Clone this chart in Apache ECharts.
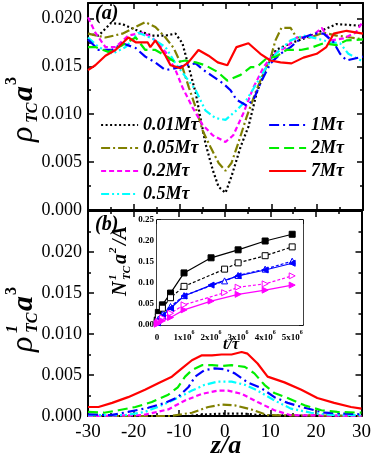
<!DOCTYPE html>
<html><head><meta charset="utf-8">
<script src="https://cdn.jsdelivr.net/npm/echarts@6/dist/echarts.min.js"></script>
<style>html,body{margin:0;padding:0;background:#fff}#c{width:374px;height:458px}</style>
</head><body><div id="c"></div>
<script>
// ---------- data ----------
const seriesNames = ['0.01M\u03c4','0.05M\u03c4','0.2M\u03c4','0.5M\u03c4','1M\u03c4','2M\u03c4','7M\u03c4'];
const seriesColors = ['#000000','#808000','#ff00ff','#00ffff','#0000ff','#00ee00','#ff0000'];

const zTicks = [-30,-20,-10,0,10,20,30];
const rhoTicksA = [0,0.005,0.010,0.015,0.020];
const rhoTicksB = [0,0.005,0.010,0.015,0.020];
const insetTTicks = [0,1,2,3,4,5];          // in units of 10^6
const insetNTicks = [0,0.05,0.10,0.15,0.20,0.25];

// panel (a): [z/a, rho_TC a^3]
const a001 = [[-30,0.0184],[-27.7,0.0182],[-25,0.0195],[-22.5,0.0194],[-19.6,0.0188],[-16,0.0182],[-13.1,0.0182],[-10.9,0.0184],[-9.4,0.0174],[-8,0.0149],[-6.5,0.0122],[-5.5,0.0097],[-4.4,0.0070],[-2.8,0.0042],[-1.5,0.0024],[0,0.0018],[1.3,0.0035],[3.3,0.0066],[5,0.0087],[6.8,0.0122],[8.9,0.0149],[11,0.0167],[14.2,0.0174],[17.7,0.0180],[21.4,0.0188],[24.2,0.0194],[27.3,0.0193],[30,0.0192]];
const a005 = [[-30,0.0184],[-26.2,0.0180],[-22.5,0.0184],[-19.6,0.0191],[-17.5,0.0196],[-15.3,0.0191],[-13.1,0.0180],[-11.3,0.0169],[-9.4,0.0149],[-8,0.0128],[-6.5,0.0107],[-5,0.0083],[-3.3,0.0066],[-1.5,0.0049],[0,0.0041],[1.3,0.0049],[2.8,0.0070],[4.6,0.0097],[6.5,0.0122],[8.3,0.0143],[9.8,0.0158],[10.9,0.0177],[12.2,0.0190],[14.2,0.0190],[15.5,0.0180],[18.5,0.0180],[21.4,0.0185],[24.2,0.0182],[27.3,0.0180],[30,0.0178]];
const a02 = [[-30,0.0201],[-28.4,0.0185],[-26.2,0.0170],[-24,0.0170],[-21.2,0.0182],[-18.1,0.0185],[-16,0.0180],[-13.1,0.0165],[-10.9,0.0146],[-9.4,0.0128],[-7.2,0.0107],[-5,0.0089],[-2.8,0.0078],[0,0.0071],[1.7,0.0078],[3.9,0.0101],[6.1,0.0128],[8.3,0.0149],[10.5,0.0163],[13.3,0.0170],[15.5,0.0180],[18.5,0.0180],[21,0.0190],[22.9,0.0177],[25.7,0.0179],[28.4,0.0185],[30,0.0197]];
const a05 = [[-30,0.0180],[-27.7,0.0170],[-24.7,0.0163],[-21.8,0.0170],[-19,0.0185],[-16,0.0179],[-13.1,0.0170],[-10.9,0.0153],[-8.7,0.0139],[-6.5,0.0125],[-4.4,0.0104],[-2.2,0.0096],[0,0.0094],[2.4,0.0104],[4.6,0.0115],[6.8,0.0132],[8.9,0.0149],[11,0.0163],[14.2,0.0177],[17,0.0182],[19.9,0.0179],[22.9,0.0175],[25,0.0174],[26.8,0.0163],[30,0.0155]];
const a1 = [[-30,0.0178],[-27.7,0.0167],[-24.7,0.0167],[-22.5,0.0174],[-19.6,0.0169],[-17.5,0.0160],[-15.3,0.0154],[-13.1,0.0146],[-10.9,0.0148],[-8.7,0.0151],[-6.5,0.0153],[-4.8,0.0146],[-2.6,0.0139],[-0.5,0.0132],[1.1,0.0125],[2.4,0.0115],[4.6,0.0109],[6.1,0.0115],[7.6,0.0132],[9.8,0.0153],[12,0.0163],[14.2,0.0170],[16.4,0.0179],[19.2,0.0184],[21.4,0.0184],[23.6,0.0175],[25,0.0163],[26.4,0.0156],[30,0.0160]];
const a2 = [[-30,0.0170],[-28.4,0.0170],[-25.5,0.0165],[-22.5,0.0172],[-19.6,0.0180],[-17.5,0.0167],[-15.3,0.0167],[-13.1,0.0161],[-10.9,0.0154],[-8.7,0.0156],[-6.5,0.0154],[-4.4,0.0151],[-1.7,0.0144],[0.4,0.0135],[3.3,0.0141],[5.5,0.0149],[6.8,0.0149],[8.9,0.0158],[11,0.0160],[13.3,0.0167],[16.4,0.0167],[18.5,0.0169],[21.4,0.0174],[24.2,0.0172],[26.4,0.0177],[30,0.0178]];
const a7 = [[-30,0.0146],[-28.4,0.0151],[-26.2,0.0161],[-24,0.0167],[-21.2,0.0180],[-19.6,0.0175],[-17,0.0175],[-16.4,0.0170],[-15.3,0.0177],[-13.1,0.0161],[-12,0.0151],[-9.8,0.0148],[-8.1,0.0154],[-5.9,0.0167],[-3.7,0.0161],[-1.7,0.0154],[0.4,0.0151],[2.4,0.0170],[5,0.0174],[7.6,0.0163],[9.8,0.0156],[12,0.0154],[14.4,0.0153],[17,0.0159],[19.9,0.0163],[22,0.0170],[23.6,0.0184],[26.4,0.0187],[30,0.0184]];

// panel (b): [z/a, rho^1_TC a^3]
const b001 = [[-30,0],[-8,0],[-4,0.0002],[0,0.0003],[4,0.0003],[8,0.0001],[30,0]];
const b005 = [[-30,0],[-12,0],[-7.2,0.0004],[-3.6,0.0011],[-0.7,0.0014],[2.2,0.0013],[5.8,0.0008],[9.4,0.0001],[30,0]];
const b02 = [[-30,0],[-18,0.0001],[-12.4,0.0008],[-8.7,0.0019],[-5,0.0027],[-1.5,0.0031],[0.7,0.0031],[3.7,0.0027],[7.2,0.0017],[10.9,0.0007],[14.5,0.0001],[30,0]];
const b05 = [[-30,0.0001],[-22,0.0001],[-17.5,0.0005],[-13.8,0.0013],[-10.3,0.0022],[-7.2,0.0031],[-4.4,0.0038],[-1.5,0.0042],[1.5,0.0042],[4.4,0.0038],[7.2,0.0031],[10.9,0.0019],[14.5,0.0009],[18.9,0.0004],[24,0.0001],[30,0.0001]];
const b1 = [[-30,0.0002],[-25,0.0001],[-21.2,0.0005],[-16.8,0.0010],[-13.1,0.0016],[-10.3,0.0023],[-8,0.0035],[-6.5,0.0048],[-4.4,0.0056],[-2.2,0.0058],[0,0.0057],[2.2,0.0052],[5,0.0041],[8,0.0034],[10.9,0.0023],[13.8,0.0016],[17.5,0.0010],[21.9,0.0004],[26.3,0.0003],[30,0.0002]];
const b2 = [[-30,0.0005],[-26.5,0.0004],[-23.3,0.0007],[-19.6,0.0011],[-16,0.0017],[-12.4,0.0026],[-10.3,0.0035],[-8.7,0.0048],[-7.2,0.0056],[-5,0.0062],[-2.8,0.0062],[-0.7,0.0061],[1.5,0.0062],[4.4,0.0060],[6.5,0.0052],[8.7,0.0038],[10.9,0.0028],[13.8,0.0022],[17.5,0.0013],[21.2,0.0007],[24.7,0.0005],[30,0.0004]];
const b7 = [[-30,0.0011],[-27.7,0.0011],[-24.7,0.0016],[-21.2,0.0023],[-17.5,0.0032],[-14.6,0.0040],[-11.6,0.0048],[-9.4,0.0058],[-7.2,0.0068],[-5,0.0074],[-2.8,0.0074],[-0.7,0.0075],[1.5,0.0075],[3.7,0.0078],[5,0.0076],[7.2,0.0064],[9.4,0.0048],[13.1,0.0041],[16.8,0.0032],[20.3,0.0022],[24,0.0016],[27.7,0.0011],[30,0.0009]];

// inset: t (10^6 tau) and N^1_TC a^2/A
const tFilled = [0.01,0.05,0.2,0.5,1,2,3,4,5];
const tOpen   = [0.01,0.05,0.2,0.5,1,2.5,3,4,5];
const nBlackFilled   = [0.012,0.030,0.048,0.076,0.124,0.160,0.179,0.200,0.216];
const nBlackOpen     = [0.008,0.020,0.040,0.065,0.092,0.133,0.148,0.165,0.186];
const nBlueFilled    = [0.005,0.012,0.022,0.040,0.069,0.095,0.117,0.131,0.147];
const nBlueOpen      = [0.006,0.014,0.025,0.044,0.070,0.105,0.118,0.133,0.152];
const nMagentaOpen   = [0.003,0.008,0.017,0.028,0.048,0.077,0.090,0.098,0.117];
const nMagentaFilled = [0.002,0.005,0.010,0.018,0.036,0.057,0.073,0.083,0.095];

// ---------- chart ----------
const FONT = 'Liberation Serif';
const topData = [a001,a005,a02,a05,a1,a2,a7];
const botData = [b001,b005,b02,b05,b1,b2,b7];
const dashes = [[2,2.5],[9,3,2,3],[5,3],[8,3,2,3,2,3],[10,4,2,4],[10,5],'solid'];

function ax(grid, pos, min, max, interval, label, tickLen) {
  tickLen = tickLen || 6;
  return {
    type:'value', gridIndex:grid, position:pos, min:min, max:max, interval:interval,
    axisLine:{show:true, onZero:false, lineStyle:{color:'#000', width:2}},
    axisTick:{show:true, inside:true, length:tickLen, lineStyle:{color:'#000', width:1.5}},
    minorTick:{show:true, splitNumber:2, length:tickLen/2, lineStyle:{color:'#000', width:1.5}},
    splitLine:{show:false},
    axisLabel: label ? label : {show:false}
  };
}
const mainYLabel = {show:true, fontFamily:FONT, fontSize:18, color:'#000', margin:6, showMaxLabel:false,
  formatter: v => v.toFixed(3)};
const mainXLabel = {show:true, fontFamily:FONT, fontSize:19, color:'#000', margin:7,
  formatter: v => String(v)};
const insetYLabel = {show:true, fontFamily:FONT, fontSize:9, fontWeight:'bold', color:'#000', margin:3,
  formatter: v => v.toFixed(2)};
const insetXLabel = {show:true, fontFamily:FONT, fontSize:9, fontWeight:'bold', color:'#000', margin:4, showMaxLabel:false,
  formatter: v => v === 0 ? '{n|0}' : '{n|' + Math.round(v/1e6) + 'x10}{s|6}',
  rich:{n:{fontFamily:FONT, fontSize:9, fontWeight:'bold', padding:[4,0,0,0]}, s:{fontFamily:FONT, fontSize:6, fontWeight:'bold', verticalAlign:'top', padding:[0,0,4,0]}}};

const zI = zTicks[1]-zTicks[0];
const rI = rhoTicksA[1]-rhoTicksA[0];
const tI = (insetTTicks[1]-insetTTicks[0])*1e6;
const nI = insetNTicks[1]-insetNTicks[0];

const xAxis = [
  ax(0,'bottom',zTicks[0],zTicks[zTicks.length-1],zI,null),
  ax(0,'top',zTicks[0],zTicks[zTicks.length-1],zI,null),
  ax(1,'bottom',zTicks[0],zTicks[zTicks.length-1],zI,mainXLabel),
  ax(1,'top',zTicks[0],zTicks[zTicks.length-1],zI,null),
  ax(2,'bottom',0,5.4e6,tI,insetXLabel,4),
  ax(2,'top',0,5.4e6,tI,null,4)
];
const yAxis = [
  ax(0,'left',rhoTicksA[0],0.0216,rI,mainYLabel),
  ax(0,'right',rhoTicksA[0],0.0216,rI,null),
  ax(1,'left',rhoTicksB[0],0.025,rI,mainYLabel),
  ax(1,'right',rhoTicksB[0],0.025,rI,null),
  ax(2,'left',insetNTicks[0],insetNTicks[insetNTicks.length-1],nI,insetYLabel,4),
  ax(2,'right',insetNTicks[0],insetNTicks[insetNTicks.length-1],nI,null,4)
];
xAxis[4].axisLine.lineStyle.width = 1.5; xAxis[5].axisLine.lineStyle.width = 1.5;
yAxis[4].axisLine.lineStyle.width = 1.5; yAxis[5].axisLine.lineStyle.width = 1.5;
xAxis[4].minorTick.show=false; xAxis[5].minorTick.show=false;
yAxis[4].minorTick.show=false; yAxis[5].minorTick.show=false;

const series = [];
seriesNames.forEach((nm,i) => {
  series.push({name:nm, type:'line', xAxisIndex:0, yAxisIndex:0, data:topData[i], showSymbol:false, symbol:'none',
    lineStyle:{color:seriesColors[i], width:2.2, type:dashes[i]}, itemStyle:{color:seriesColors[i]}, z:2+i, animation:false});
});
seriesNames.forEach((nm,i) => {
  series.push({name:nm, type:'line', xAxisIndex:2, yAxisIndex:2, data:botData[i], showSymbol:false, symbol:'none',
    lineStyle:{color:seriesColors[i], width:2.2, type:dashes[i]}, itemStyle:{color:seriesColors[i]}, z:2+i, animation:false});
});
function inset(name, ts, ns, color, dash, symbol, rot, filled) {
  series.push({name:name, type:'line', xAxisIndex:4, yAxisIndex:4,
    data: ts.map((t,k)=>[t*1e6, ns[k]]), symbol:symbol, symbolSize:6, symbolRotate:rot,
    lineStyle:{color:color, width:1.2, type:dash},
    itemStyle:{color: filled ? color : '#fff', borderColor:color, borderWidth:1},
    z:20, animation:false});
}
inset('i1', tFilled, nBlackFilled, '#000', 'solid', 'rect', 0, true);
inset('i2', tOpen, nBlackOpen, '#000', [3,2], 'rect', 0, false);
inset('i3', tOpen, nBlueOpen, '#0000ff', [3,2], 'triangle', 0, false);
inset('i4', tFilled, nBlueFilled, '#0000ff', 'solid', 'triangle', 90, true);
inset('i5', tOpen, nMagentaOpen, '#ff00ff', [3,2], 'triangle', -90, false);
inset('i6', tFilled, nMagentaFilled, '#ff00ff', 'solid', 'triangle', -90, true);

const legendText = {fontFamily:FONT, fontSize:18, fontStyle:'italic', fontWeight:'bold', color:'#000'};
const legendCommon = {orient:'vertical', padding:0, itemGap:5, itemWidth:37, itemHeight:14,
  textStyle:legendText, selectedMode:false, itemStyle:{opacity:0, borderWidth:0}, lineStyle:{width:2.2}};

function ylab(x, y, withOne) {
  const ch = [
    {type:'text', x:0, y:0, style:{text:'\u03c1', font:'italic 32px "Liberation Serif"', fill:'#000', textVerticalAlign:'middle'}},
    {type:'text', x:19, y:9, style:{text:'TC', font:'italic bold 16px "Liberation Serif"', fill:'#000', textVerticalAlign:'middle'}},
    {type:'text', x:41, y:0, style:{text:'a', font:'italic bold 30px "Liberation Serif"', fill:'#000', textVerticalAlign:'middle'}},
    {type:'text', x:57, y:-12, style:{text:'3', font:'bold 16px "Liberation Serif"', fill:'#000', textVerticalAlign:'middle'}}
  ];
  if (withOne) ch.push({type:'text', x:19, y:-11, style:{text:'1', font:'italic bold 16px "Liberation Serif"', fill:'#000', textVerticalAlign:'middle'}});
  return {type:'group', x:x, y:y, rotation:Math.PI/2, children:ch};
}

const option = {
  backgroundColor:'#fff',
  animation:false,
  grid:[
    {left:88, top:3, width:275, height:207, show:false},
    {left:88, top:211, width:275, height:205, show:false},
    {left:157, top:220, width:146, height:105, show:true, backgroundColor:'#fff', borderWidth:0, z:10}
  ],
  xAxis:xAxis, yAxis:yAxis,
  legend:[
    Object.assign({data:seriesNames.slice(0,4), left:100, top:116}, legendCommon),
    Object.assign({data:seriesNames.slice(4), left:268, top:116}, legendCommon)
  ],
  series:series,
  graphic:[
    {type:'text', x:95, y:4, style:{text:'(a)', font:'italic bold 20px "Liberation Serif"', fill:'#000'}},
    {type:'text', x:95, y:215, style:{text:'(b)', font:'italic bold 20px "Liberation Serif"', fill:'#000'}},
    {type:'text', x:226, y:446, style:{text:'z/a', font:'italic bold 26px "Liberation Serif"', fill:'#000', textAlign:'center', textVerticalAlign:'middle'}},
    {type:'text', x:231, y:345, z:30, style:{text:'t/\u03c4', font:'italic bold 16px "Liberation Serif"', fill:'#000', textAlign:'center', textVerticalAlign:'middle'}},
    ylab(24, 142, false),
    ylab(24, 352, true),
    {type:'group', x:121, y:296, rotation:Math.PI/2, z:30, children:[
      {type:'text', x:0, y:0, style:{text:'N', font:'italic bold 20px "Liberation Serif"', fill:'#000', textVerticalAlign:'middle'}},
      {type:'text', x:16, y:-8, style:{text:'1', font:'italic bold 11px "Liberation Serif"', fill:'#000', textVerticalAlign:'middle'}},
      {type:'text', x:16, y:6, style:{text:'TC', font:'italic bold 11px "Liberation Serif"', fill:'#000', textVerticalAlign:'middle'}},
      {type:'text', x:32, y:0, style:{text:'a', font:'italic bold 20px "Liberation Serif"', fill:'#000', textVerticalAlign:'middle'}},
      {type:'text', x:43, y:-8, style:{text:'2', font:'italic bold 11px "Liberation Serif"', fill:'#000', textVerticalAlign:'middle'}},
      {type:'text', x:51, y:0, style:{text:'/A', font:'italic bold 20px "Liberation Serif"', fill:'#000', textVerticalAlign:'middle'}}
    ]}
  ]
};
const chart = echarts.init(document.getElementById('c'), null, {renderer:'canvas'});
chart.setOption(option);
</script></body></html>
